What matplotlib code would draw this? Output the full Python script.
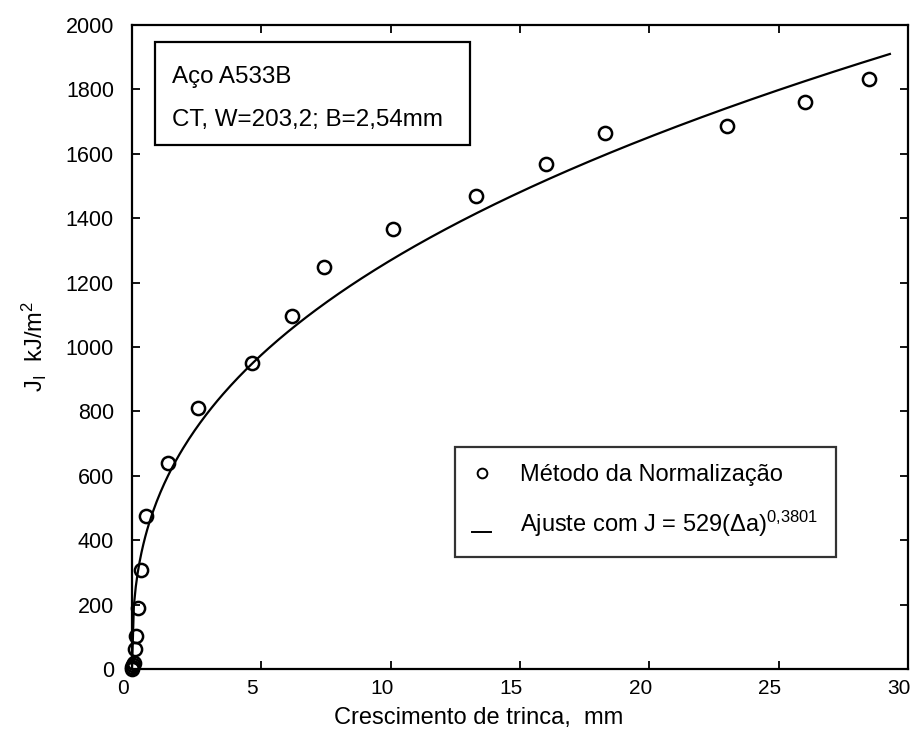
import numpy as np
import matplotlib
matplotlib.use('Agg')
import matplotlib.pyplot as plt
import matplotlib.transforms as mtransforms
from matplotlib.lines import Line2D
from matplotlib.patches import Rectangle
from matplotlib.legend_handler import HandlerLine2D

plt.rcParams['font.family'] = ['Liberation Sans', 'DejaVu Sans']
plt.rcParams['mathtext.fontset'] = 'custom'
plt.rcParams['mathtext.rm'] = 'Liberation Sans'
plt.rcParams['mathtext.it'] = 'Liberation Sans:italic'

# crack growth (mm) and J values (kJ/m2), normalization method
da = [0.0, 0.02, 0.04, 0.06, 0.12, 0.15, 0.24, 0.35, 0.54, 1.39, 2.55, 4.64,
      6.18, 7.42, 10.1, 13.3, 16.0, 18.3, 23.0, 26.0, 28.5]
J = [0, 5, 12, 20, 62, 102, 189, 307, 475, 640, 810, 950,
     1096, 1248, 1366, 1469, 1568, 1665, 1686, 1761, 1832]

# power-law fit J = C * da^m
C = 529
m = 0.3801
a_fit = np.linspace(0, 29.3, 400)
J_fit = C * a_fit ** m


class BaselineLine(HandlerLine2D):
    # draw the line handle at the text baseline, like an underscore
    def create_artists(self, *args, **kwargs):
        arts = super().create_artists(*args, **kwargs)
        for a in arts:
            a.set_ydata(np.zeros_like(a.get_ydata()))
        return arts


fig = plt.figure(figsize=(9.12, 7.32), dpi=100)
ax = fig.add_axes([0.1447, 0.0861, 0.8509, 0.8798])

ax.plot(a_fit, J_fit, color='black', lw=1.6)
ax.plot(da, J, 'o', mfc='none', mec='black', ms=9.5, mew=1.8, clip_on=False)

ax.set_xlim(0, 30)
ax.set_ylim(0, 2000)
ax.set_xticks(range(0, 31, 5))
ax.set_yticks(range(0, 2001, 200))
ax.tick_params(direction='in', length=6, width=1.3, top=True, right=True)
ax.tick_params(axis='x', labelsize=15, pad=7)
ax.tick_params(axis='y', labelsize=15.5, pad=13)
for s in ax.spines.values():
    s.set_linewidth(1.6)

# x tick labels sit a little left of their ticks
shift = mtransforms.ScaledTranslation(-9 / 100, 0, fig.dpi_scale_trans)
for lbl in ax.get_xticklabels():
    lbl.set_transform(lbl.get_transform() + shift)

ax.set_xlabel('Crescimento de trinca,  mm', fontsize=17, x=0.447, labelpad=7)
ax.set_ylabel(r'J$_\mathrm{I}$  kJ/m$^2$', fontsize=17, labelpad=12)

# specimen box
ax.add_patch(Rectangle((0.0296, 0.814), 0.406, 0.160, transform=ax.transAxes,
                       fill=False, ec='black', lw=1.6))
ax.text(0.0515, 0.919, 'Aço A533B', transform=ax.transAxes, fontsize=17.4, va='center')
ax.text(0.0515, 0.8525, 'CT, W=203,2; B=2,54mm', transform=ax.transAxes,
        fontsize=17.4, va='center')

h_pts = Line2D([], [], ls='none', marker='o', mfc='none', mec='black', ms=7, mew=1.4)
h_fit = Line2D([], [], color='black', lw=1.4)
leg = ax.legend([h_pts, h_fit],
                ['Método da Normalização', r'Ajuste com J = 529($\Delta$a)$^{0{,}3801}$'],
                loc='upper left', bbox_to_anchor=(0.416, 0.345), borderaxespad=0,
                fontsize=17, frameon=True, fancybox=False, borderpad=0.75,
                handlelength=0.8, handletextpad=1.2, labelspacing=0.95,
                handler_map={h_fit: BaselineLine()})
leg.get_frame().set_edgecolor('black')
leg.get_frame().set_linewidth(1.6)

fig.savefig('out.png', dpi=100)
